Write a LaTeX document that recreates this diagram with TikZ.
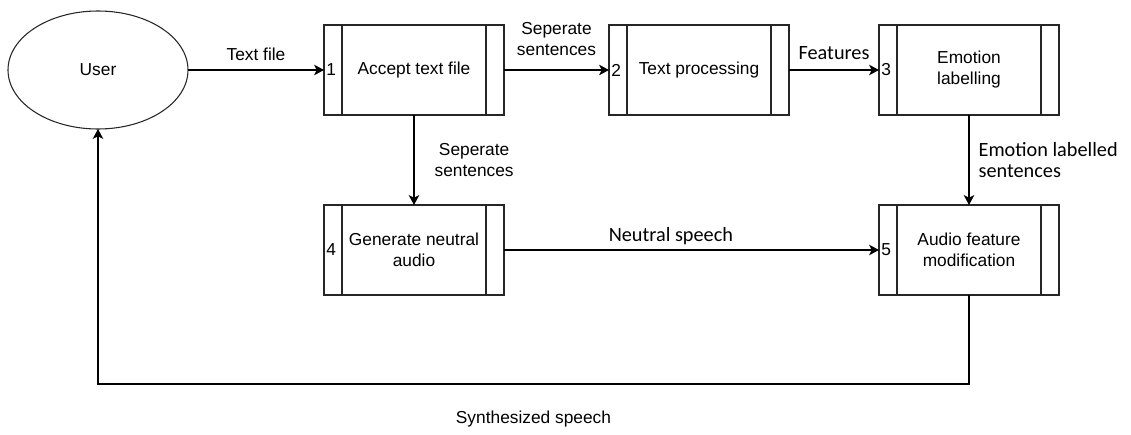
\documentclass[tikz,border=0pt]{standalone}
\usepackage{fontspec}
\setmainfont{Liberation Sans}
\newfontfamily\calibri{Carlito}
\usepackage{tikz}
\usetikzlibrary{shapes.geometric, arrows.meta, positioning}

\begin{document}
\begin{tikzpicture}[
        font=\fontsize{13}{15.75}\selectfont,
        process/.style={draw=black!85, line width=0.9pt, rectangle, minimum width=135pt, minimum height=67.5pt, align=center, inner sep=0pt, outer sep=0pt,
            path picture={\draw[black!85, line width=0.9pt]
                ([xshift=13.5pt]path picture bounding box.north west) -- ([xshift=13.5pt]path picture bounding box.south west)
                ([xshift=-13.5pt]path picture bounding box.north east) -- ([xshift=-13.5pt]path picture bounding box.south east);}},
        entity/.style={draw=black!85, line width=0.8pt, ellipse, minimum width=135pt, minimum height=88.5pt, inner sep=0pt, outer sep=0pt},
        procnum/.style={anchor=west, inner sep=0pt},
        arrow/.style={line width=0.9pt, -{Stealth[length=7.5pt, width=8pt, inset=2pt]}},
        flowlabel/.style={align=center, inner sep=0pt},
        altlabel/.style={flowlabel, font=\calibri\fontsize{15.2}{15.75}\selectfont}
    ]
        \useasboundingbox (0,0) rectangle (848.25pt,-326.25pt);

        \node[entity] (user) at (73.5pt,-52.5pt) {User};
        \node[process] (accept) at (310.5pt,-52.5pt) {Accept text file};
        \node[process, right=78.75pt of accept] (textproc) {Text processing};
        \node[process, right=67.5pt of textproc] (emotion) {Emotion\\labelling};
        \node[process, below=67.5pt of accept] (neutral) {Generate neutral\\audio};
        \node[process, below=67.5pt of emotion] (modify) {Audio feature\\modification};

        % process numbers in the left strip
        \foreach \proc/\num in {accept/1, textproc/2, emotion/3, neutral/4, modify/5}
            \node[procnum] (num\num) at ([xshift=1.6pt]\proc.west) {\num};

        \draw[arrow] (user) -- node[flowlabel, above=6.75pt] {Text file} (accept);
        \draw[arrow] (accept) -- node[flowlabel, above=10pt] {Seperate\\sentences} (textproc);
        \draw[arrow] (textproc) -- node[altlabel, above=7.5pt] {Features} (emotion);
        \draw[arrow] (accept) -- node[flowlabel, right=15pt] {Seperate\\sentences} (neutral);
        \draw[arrow] (emotion) -- node[altlabel, align=left, right=6.75pt] {Emotion labelled\\sentences} (modify);
        \draw[arrow] (neutral) -- node[altlabel, above=3.3pt, pos=0.445] {Neutral speech} (modify);

        % synthesized speech back to the user
        \draw[arrow] (modify.south) -- ++(0,-66.75pt) -| node[flowlabel, below=19.5pt, pos=0.25] {Synthesized speech} (user.south);
    \end{tikzpicture}
\end{document}
